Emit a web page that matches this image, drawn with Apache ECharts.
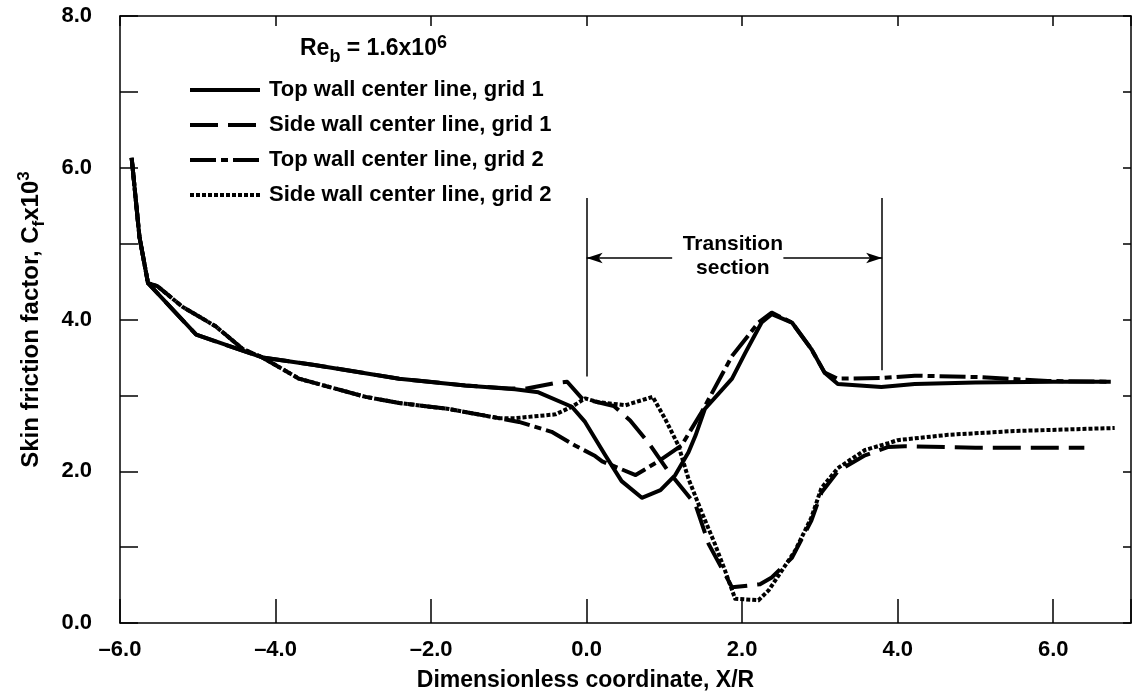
<!DOCTYPE html>
<html>
<head>
<meta charset="utf-8">
<script src="https://cdn.jsdelivr.net/npm/echarts@6/dist/echarts.min.js"></script>
<style>
html,body{margin:0;padding:0;background:#fff;}
#chart{width:1140px;height:698px;}
</style>
</head>
<body>
<div id="chart"></div>
<script>
// ---- data ----
const seriesNames = [
  'Top wall center line, grid 1',
  'Side wall center line, grid 1',
  'Top wall center line, grid 2',
  'Side wall center line, grid 2'
];
const xTop1 = [-5.85,-5.75,-5.64,-5.02,-4.17,-3.5,-2.41,-1.56,-0.92,-0.62,-0.19,-0.02,0.24,0.45,0.71,0.95,1.14,1.31,1.40,1.52,1.87,2.04,2.25,2.38,2.64,2.89,3.06,3.23,3.79,4.22,5.0,6.0,6.74];
const yTop1 = [6.13,5.09,4.48,3.80,3.50,3.40,3.22,3.13,3.08,3.04,2.85,2.65,2.21,1.87,1.65,1.75,1.95,2.25,2.47,2.82,3.22,3.56,3.96,4.07,3.96,3.61,3.30,3.15,3.11,3.15,3.17,3.18,3.18];

const xSide1 = [-5.85,-5.75,-5.64,-5.02,-4.17,-3.5,-2.41,-1.56,-1.0,-0.77,-0.42,-0.25,-0.06,0.35,0.56,0.80,1.05,1.40,1.57,1.87,2.23,2.38,2.64,2.89,3.02,3.23,3.58,3.88,4.09,5.0,6.40];
const ySide1 = [6.13,5.09,4.48,3.80,3.50,3.40,3.22,3.13,3.09,3.09,3.16,3.18,2.96,2.86,2.67,2.37,2.00,1.56,1.04,0.47,0.51,0.60,0.86,1.35,1.72,2.00,2.21,2.32,2.33,2.31,2.31];

const xTop2 = [-5.85,-5.75,-5.64,-5.52,-5.2,-4.77,-4.42,-4.17,-3.70,-2.84,-2.41,-1.77,-1.13,-0.87,-0.45,-0.15,0.11,0.20,0.63,0.92,1.22,1.48,1.87,2.21,2.38,2.64,2.89,3.06,3.23,3.79,4.22,5.07,5.93,6.74];
const yTop2 = [6.13,5.09,4.48,4.44,4.17,3.91,3.61,3.50,3.22,2.98,2.90,2.82,2.70,2.65,2.52,2.34,2.20,2.13,1.95,2.13,2.34,2.78,3.52,3.96,4.09,3.96,3.61,3.30,3.22,3.23,3.26,3.24,3.19,3.18];

const xSide2 = [-5.85,-5.75,-5.64,-5.52,-5.2,-4.77,-4.42,-4.17,-3.70,-2.84,-2.41,-1.77,-1.13,-0.92,-0.40,-0.19,-0.02,0.15,0.50,0.85,1.01,1.18,1.31,1.48,1.65,1.78,1.91,2.21,2.34,2.68,2.89,3.02,3.23,3.58,3.88,4.0,4.65,5.50,6.79];
const ySide2 = [6.13,5.09,4.48,4.44,4.17,3.91,3.61,3.50,3.22,2.98,2.90,2.82,2.70,2.70,2.75,2.85,2.96,2.91,2.87,2.98,2.69,2.34,1.90,1.46,1.04,0.69,0.32,0.30,0.43,0.95,1.39,1.78,2.04,2.28,2.37,2.41,2.48,2.53,2.57];

const xTickLabels = {'-6': '\u20136.0', '-4': '\u20134.0', '-2': '\u20132.0', '0': '0.0', '2': '2.0', '4': '4.0', '6': '6.0'};
const yTickLabels = {'0': '0.0', '2': '2.0', '4': '4.0', '6': '6.0', '8': '8.0'};

// transition-section annotation (data coordinates)
const transitionStart = 0.0;
const transitionEnd = 3.8;
const transitionLineTop = 5.6;
const transitionLineBottoms = [3.25, 3.33];
const arrowY = 4.81;
const arrowInnerEnds = [1.1, 2.53];
const transitionLabelAt = [1.88, 4.83];

// ---- chart ----
const pairs = (xs, ys) => xs.map((x, i) => [x, ys[i]]);
const FONT = '"Liberation Sans", Arial, Helvetica, sans-serif';
const BLACK = '#000';

const lineTypes = ['solid', [28, 10], [26, 5, 7, 5], [4, 2]];
const dataSets = [pairs(xTop1, yTop1), pairs(xSide1, ySide1), pairs(xTop2, yTop2), pairs(xSide2, ySide2)];

const series = dataSets.map((d, i) => ({
  name: seriesNames[i],
  type: 'line',
  data: d,
  symbol: 'none',
  smooth: false,
  silent: true,
  z: 10 - i,
  lineStyle: { color: BLACK, width: 4, type: lineTypes[i], cap: 'butt', join: 'round' },
  itemStyle: { color: BLACK }
}));

series[0].markLine = {
  silent: true,
  animation: false,
  symbol: ['none', 'none'],
  symbolSize: [8, 16],
  label: { show: false },
  lineStyle: { color: BLACK, width: 1.5, type: 'solid' },
  data: [
    [{ coord: [transitionStart, transitionLineTop] }, { coord: [transitionStart, transitionLineBottoms[0]] }],
    [{ coord: [transitionEnd, transitionLineTop] }, { coord: [transitionEnd, transitionLineBottoms[1]] }],
    [{ coord: [transitionStart, arrowY], symbol: 'arrow' }, { coord: [arrowInnerEnds[0], arrowY], symbol: 'none' }],
    [{ coord: [arrowInnerEnds[1], arrowY], symbol: 'none' }, { coord: [transitionEnd, arrowY], symbol: 'arrow' }]
  ]
};
series[0].markPoint = {
  silent: true,
  animation: false,
  symbol: 'circle',
  symbolSize: 0,
  data: [{ coord: transitionLabelAt }],
  label: {
    show: true,
    position: 'inside',
    formatter: 'Transition\nsection',
    color: BLACK,
    fontFamily: FONT,
    fontWeight: 'bold',
    fontSize: 21,
    lineHeight: 24,
    align: 'center'
  }
};

const chart = echarts.init(document.getElementById('chart'), null, { renderer: 'canvas' });
chart.setOption({
  animation: false,
  backgroundColor: '#fff',
  grid: { left: 120, right: 9, top: 16, bottom: 75, containLabel: false },
  legend: {
    orient: 'vertical',
    left: 183,
    top: 73,
    itemWidth: 70,
    itemHeight: 14,
    itemGap: 11,
    selectedMode: false,
    itemStyle: { color: 'rgba(0,0,0,0)', borderColor: 'rgba(0,0,0,0)', borderWidth: 0, opacity: 0 },
    lineStyle: { width: 4, color: BLACK },
    textStyle: { color: BLACK, fontFamily: FONT, fontWeight: 'bold', fontSize: 22, lineHeight: 24, padding: [0, 0, 0, 4] },
    data: seriesNames
  },
  graphic: [{
    type: 'text',
    left: 300,
    top: 34,
    style: {
      text: '{a|Re}{b|b}{a| = 1.6x10}{c|6}',
      fill: BLACK,
      rich: {
        a: { fontFamily: FONT, fontWeight: 'bold', fontSize: 23, lineHeight: 32, verticalAlign: 'bottom', padding: [0,0,6,0] },
        b: { fontFamily: FONT, fontWeight: 'bold', fontSize: 18, lineHeight: 32, verticalAlign: 'bottom' },
        c: { fontFamily: FONT, fontWeight: 'bold', fontSize: 18, lineHeight: 32, verticalAlign: 'top' }
      }
    }
  }],
  xAxis: [{
    type: 'value',
    min: -6, max: 7, interval: 2,
    position: 'bottom',
    name: 'Dimensionless coordinate, X/R',
    nameLocation: 'middle',
    nameGap: 46,
    nameTextStyle: { color: BLACK, fontFamily: FONT, fontWeight: 'bold', fontSize: 23, padding: [0, 80, 0, 0] },
    axisLine: { show: true, onZero: false, lineStyle: { color: BLACK, width: 1.5 } },
    axisTick: { show: true, inside: true, length: 24, lineStyle: { color: BLACK, width: 1.5 } },
    axisLabel: {
      margin: 16, color: BLACK, fontFamily: FONT, fontWeight: 'bold', fontSize: 22,
      formatter: v => xTickLabels[String(Math.round(v))] !== undefined && Math.abs(v - Math.round(v)) < 1e-9 ? xTickLabels[String(Math.round(v))] : ''
    },
    splitLine: { show: false }
  }, {
    type: 'value',
    min: -6, max: 7, interval: 2,
    position: 'top',
    axisLine: { show: true, onZero: false, lineStyle: { color: BLACK, width: 1.5 } },
    axisTick: { show: true, inside: true, length: 10, lineStyle: { color: BLACK, width: 1.5 } },
    axisLabel: { show: false },
    splitLine: { show: false }
  }],
  yAxis: [{
    type: 'value',
    min: 0, max: 8, interval: 2,
    position: 'left',
    name: '{n|Skin friction factor, C}{s|f}{n|x10}{p|3}',
    nameLocation: 'middle',
    nameGap: 72,
    nameTextStyle: {
      color: BLACK,
      rich: {
        n: { fontFamily: FONT, fontWeight: 'bold', fontSize: 24, lineHeight: 32, verticalAlign: 'bottom', padding: [0,0,5,0] },
        s: { fontFamily: FONT, fontWeight: 'bold', fontSize: 17, lineHeight: 32, verticalAlign: 'bottom' },
        p: { fontFamily: FONT, fontWeight: 'bold', fontSize: 17, lineHeight: 32, verticalAlign: 'top' }
      }
    },
    axisLine: { show: true, onZero: false, lineStyle: { color: BLACK, width: 1.5 } },
    axisTick: { show: true, inside: true, length: 18, lineStyle: { color: BLACK, width: 1.5 } },
    minorTick: { show: true, splitNumber: 2, length: 18, lineStyle: { color: BLACK, width: 1.5 } },
    axisLabel: {
      margin: 28, color: BLACK, fontFamily: FONT, fontWeight: 'bold', fontSize: 22,
      formatter: v => yTickLabels[String(Math.round(v))] || ''
    },
    splitLine: { show: false },
    minorSplitLine: { show: false }
  }, {
    type: 'value',
    min: 0, max: 8, interval: 1,
    position: 'right',
    axisLine: { show: true, onZero: false, lineStyle: { color: BLACK, width: 1.5 } },
    axisTick: { show: true, inside: true, length: 8, lineStyle: { color: BLACK, width: 1.5 } },
    axisLabel: { show: false },
    splitLine: { show: false }
  }],
  series: series
});
</script>
</body>
</html>
